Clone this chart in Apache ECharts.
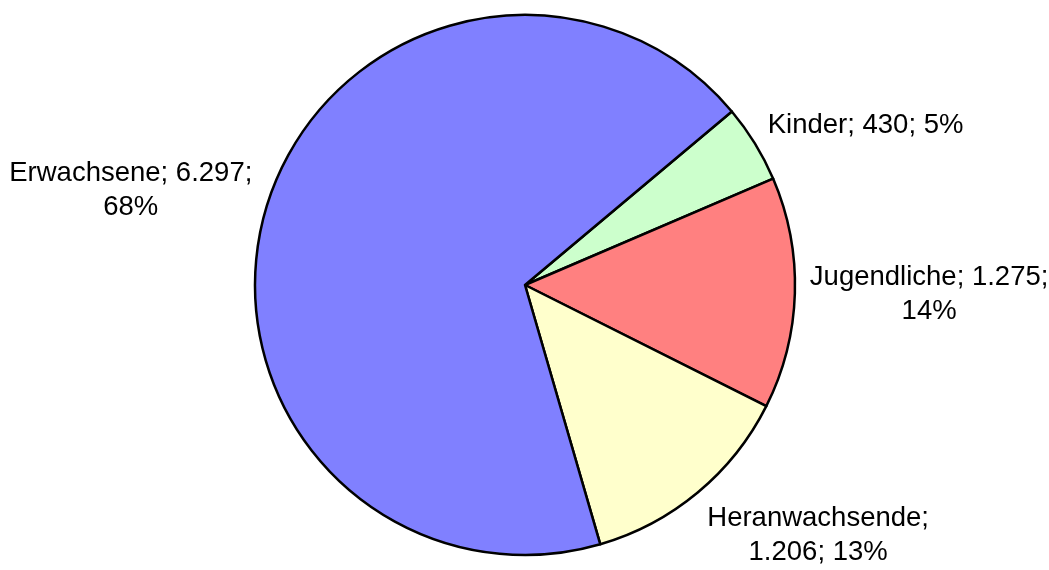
<!DOCTYPE html>
<html>
<head>
<meta charset="utf-8">
<script src="https://cdn.jsdelivr.net/npm/echarts@6/dist/echarts.min.js"></script>
<style>
  html, body { margin: 0; padding: 0; background: #fff; }
  #pie-chart { width: 1049px; height: 570px; }
</style>
</head>
<body>
<div id="pie-chart"></div>
<script>
// Altersgruppen (im Uhrzeigersinn ab ca. 40°)
var categories = ['Kinder', 'Jugendliche', 'Heranwachsende', 'Erwachsene'];
var values = [430, 1275, 1206, 6297];
// wie viele Teile der Beschriftung in die erste Zeile kommen
var firstLineParts = [3, 2, 1, 2];

var colors = ['#ccffcc', '#ff8080', '#ffffcc', '#8080ff'];
var startAngle = 40;
var cx = 525, cy = 285, radius = 270;

var total = values.reduce(function (a, b) { return a + b; }, 0);

function fmtNum(v) {
	return String(v).replace(/\B(?=(\d{3})+(?!\d))/g, '.');
}

function labelText(i) {
	var parts = [categories[i], fmtNum(values[i]), Math.round(values[i] / total * 100) + '%'];
	var n = firstLineParts[i];
	var first = parts.slice(0, n).join('; ');
	var rest = parts.slice(n).join('; ');
	return rest ? first + ';\n' + rest : first;
}

// Mittelwinkel eines Segments (Grad, gegen den Uhrzeigersinn ab 3 Uhr)
function midAngle(i) {
	var cum = 0;
	for (var k = 0; k < i; k++) cum += values[k];
	return startAngle - 360 * (cum + values[i] / 2) / total;
}

function clamp(v) { return Math.max(-1, Math.min(1, v)); }

var chart = echarts.init(document.getElementById('pie-chart'), null, { renderer: 'canvas' });

chart.setOption({
	animation: false,
	color: colors,
	series: [{
		type: 'pie',
		center: [cx, cy],
		radius: radius,
		startAngle: startAngle,
		clockwise: true,
		avoidLabelOverlap: false,
		silent: true,
		itemStyle: {
			borderColor: '#000',
			borderWidth: 2.5
		},
		label: {
			show: true,
			position: 'outside',
			color: '#000',
			fontSize: 27.5,
			lineHeight: 34,
			fontFamily: '"Liberation Sans", Arial, sans-serif',
			formatter: function (p) { return labelText(p.dataIndex); }
		},
		labelLine: { show: false },
		// Beschriftung aussen am Rand, Box zeigt zum Mittelpunkt
		labelLayout: function (p) {
			var a = midAngle(p.dataIndex) * Math.PI / 180;
			var dx = Math.cos(a), dy = -Math.sin(a);
			var gap = 15;
			var w = p.labelRect.width, h = p.labelRect.height;
			return {
				x: cx + (radius + gap) * dx + clamp(dx * 2) * w / 2,
				y: cy + (radius + gap) * dy + clamp(dy * 1.2) * h / 2,
				align: 'center',
				verticalAlign: 'middle'
			};
		},
		data: categories.map(function (name, i) {
			return { name: name, value: values[i] };
		})
	}]
});
</script>
</body>
</html>
